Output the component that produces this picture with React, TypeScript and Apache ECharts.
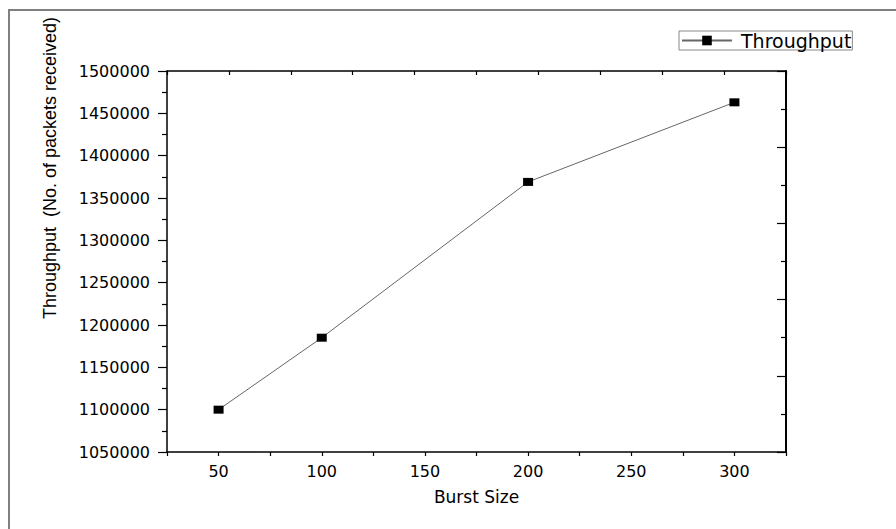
import React, { useEffect, useRef } from "react";
import * as echarts from "echarts";

const burstSizes = [50, 100, 200, 300];
const throughput = [1100000, 1185000, 1369000, 1463000];
const seriesName = "Throughput";
const xTitle = "Burst Size";
const yTitle = "Throughput  (No. of packets received)";

export default function App() {
  const ref = useRef<HTMLDivElement>(null);
  useEffect(() => {
    if (!ref.current) return;
    const chart = echarts.init(ref.current, null, { renderer: "svg" });
    const tickFont = { fontFamily: "DejaVu Sans", fontSize: 16, color: "#000" };
    chart.setOption({
      animation: false,
      backgroundColor: "#fff",
      grid: { left: 167, top: 71, right: 110, bottom: 77, containLabel: false },
      legend: {
        left: 679,
        top: 31,
        orient: "horizontal",
        borderColor: "#888",
        borderWidth: 1,
        borderRadius: 0,
        padding: [0, 1, 0, 2],
        itemWidth: 50,
        itemHeight: 12,
        textStyle: { fontFamily: "DejaVu Sans", fontSize: 19, color: "#000", padding: [0, 0, 0, 4] },
        data: [seriesName],
      },
      graphic: [
        {
          type: "rect",
          silent: true,
          z: -1,
          shape: { x: 9, y: 10, width: 1200, height: 1200 },
          style: { fill: "none", stroke: "#808080", lineWidth: 2 },
        },
        {
          type: "text",
          x: 50,
          y: 168,
          rotation: Math.PI / 2,
          style: {
            text: yTitle,
            fontFamily: "Liberation Sans",
            fontSize: 18,
            fill: "#000",
            align: "center",
            verticalAlign: "middle",
          },
        },
      ],
      xAxis: [
        {
          type: "value",
          position: "bottom",
          min: 25,
          max: 325,
          interval: 25,
          name: xTitle,
          nameLocation: "middle",
          nameGap: 36,
          nameTextStyle: { fontFamily: "DejaVu Sans", fontSize: 17, color: "#000" },
          axisLine: { show: true, lineStyle: { color: "#000", width: 1.5 } },
          axisTick: { show: true, inside: false, length: 4, lineStyle: { color: "#000", width: 1.2 } },
          axisLabel: {
            ...tickFont,
            margin: 11,
            formatter: (v: number) => (v % 50 === 0 ? String(v) : ""),
          },
          splitLine: { show: false },
        },
        {
          type: "value",
          position: "top",
          min: 0,
          max: 10,
          interval: 1,
          axisLine: { show: true, lineStyle: { color: "#000", width: 1.5 } },
          axisTick: { show: true, inside: true, length: 4, lineStyle: { color: "#000", width: 1.2 } },
          axisLabel: { show: false },
          splitLine: { show: false },
        },
      ],
      yAxis: [
        {
          type: "value",
          position: "left",
          min: 1050000,
          max: 1500000,
          interval: 50000,
          axisLine: { show: true, lineStyle: { color: "#000", width: 1.5 } },
          axisTick: { show: true, inside: false, length: 9, lineStyle: { color: "#000", width: 1.2 } },
          minorTick: { show: true, splitNumber: 2, length: 5, lineStyle: { color: "#000", width: 1.2 } },
          axisLabel: { ...tickFont, margin: 17, formatter: (v: number) => String(v) },
          splitLine: { show: false },
        },
        {
          type: "value",
          position: "right",
          min: 0,
          max: 5,
          interval: 1,
          axisLine: { show: true, lineStyle: { color: "#000", width: 2 } },
          axisTick: { show: true, inside: true, length: 9, lineStyle: { color: "#000", width: 1.2 } },
          minorTick: { show: true, splitNumber: 2, length: 5, lineStyle: { color: "#000", width: 1.2 } },
          axisLabel: { show: false },
          splitLine: { show: false },
        },
      ],
      series: [
        {
          name: seriesName,
          type: "line",
          xAxisIndex: 0,
          yAxisIndex: 0,
          data: burstSizes.map((x, i) => [x, throughput[i]]),
          symbol: "rect",
          symbolSize: [10, 8],
          showSymbol: true,
          itemStyle: { color: "#000" },
          lineStyle: { color: "#666", width: 1 },
        },
      ],
    });
    return () => chart.dispose();
  }, []);
  return (
    <div
      ref={ref}
      style={{ position: "absolute", left: 0, top: 0, width: 896, height: 529 }}
    />
  );
}
